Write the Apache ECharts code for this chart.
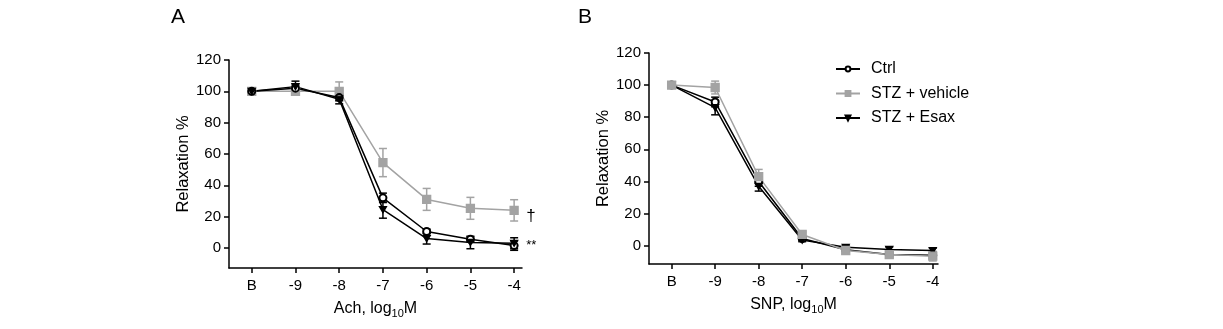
<!DOCTYPE html>
<html>
<head>
<meta charset="utf-8">
<script src="https://cdn.jsdelivr.net/npm/echarts@6/dist/echarts.min.js"></script>
<style>
  html, body { margin: 0; padding: 0; background: #fff; }
  #chart { width: 1223px; height: 329px; }
</style>
</head>
<body>
<div id="chart"></div>
<script>
  // x categories (B = baseline, then log10 M)
  var xLabels = ['B', '-9', '-8', '-7', '-6', '-5', '-4']
  var yTicks = [0, 20, 40, 60, 80, 100, 120]

  // panel A: acetylcholine
  var achCtrl = [100, 102, 96, 32, 10.5, 5.5, 1.5]
  var achCtrlErr = [1, 2, 2, 3, 1.5, 1.5, 3]
  var achVehicle = [100, 100, 100, 54.5, 31, 25.3, 24]
  var achVehicleErr = [1.5, 2.5, 6, 9, 7, 7, 6.8]
  var achEsax = [100, 103, 95, 24.5, 6, 3.5, 3]
  var achEsaxErr = [1.5, 3.5, 3, 5.5, 3.5, 4, 3.5]

  // panel B: sodium nitroprusside
  var snpCtrl = [100, 89.5, 40, 4.5, -2.5, -5.5, -6]
  var snpCtrlErr = [1, 3, 3, 1, 1, 1.5, 2]
  var snpVehicle = [100, 98.5, 43, 7, -3, -5.5, -6.5]
  var snpVehicleErr = [1, 4, 4.5, 1.5, 1.5, 2, 3]
  var snpEsax = [100, 86, 37, 3.5, -1, -2.3, -3]
  var snpEsaxErr = [1, 4.5, 3, 1, 1, 1.5, 1.5]

  var GRAY = '#a3a3a3'
  var FONT = '"Liberation Sans", Arial, sans-serif'
  var tri = 'path://M0,0 L10,0 L5,9 Z'

  function pts (vals) {
    return vals.map(function (v, i) { return [i, v] })
  }
  function errPts (vals, errs) {
    return vals.map(function (v, i) { return [i, v, errs[i]] })
  }

  function errSeries (vals, errs, color, idx) {
    return {
      type: 'custom',
      xAxisIndex: idx,
      yAxisIndex: idx,
      z: 1,
      silent: true,
      data: errPts(vals, errs),
      encode: {x: 0, y: 1},
      renderItem: function (params, api) {
        var x = api.value(0), y = api.value(1), e = api.value(2)
        var top = api.coord([x, y + e])
        var bot = api.coord([x, y - e])
        var hw = 4
        var st = {stroke: color, lineWidth: 1.5}
        return {
          type: 'group',
          children: [
            {type: 'line', shape: {x1: top[0], y1: top[1], x2: bot[0], y2: bot[1]}, style: st},
            {type: 'line', shape: {x1: top[0] - hw, y1: top[1], x2: top[0] + hw, y2: top[1]}, style: st},
            {type: 'line', shape: {x1: bot[0] - hw, y1: bot[1], x2: bot[0] + hw, y2: bot[1]}, style: st},
          ],
        }
      },
    }
  }

  function lineSeries (name, vals, color, symbol, size, idx, extra) {
    var s = {
      name: name,
      type: 'line',
      xAxisIndex: idx,
      yAxisIndex: idx,
      z: 3,
      data: pts(vals),
      symbol: symbol,
      symbolSize: size,
      showAllSymbol: true,
      lineStyle: {color: color, width: 1.5},
      itemStyle: {color: color, borderColor: color, borderWidth: symbol === 'emptyCircle' ? 1 : 1.3},
      emphasis: {disabled: true},
    }
    for (var k in extra) s[k] = extra[k]
    return s
  }

  function xAxis (idx, label) {
    return {
      type: 'value',
      gridIndex: idx,
      min: -0.52,
      max: idx === 0 ? 6.18 : 6.12,
      name: label,
      nameLocation: 'middle',
      nameGap: 33,
      nameTextStyle: {
        color: '#000', fontFamily: FONT,
        rich: {
          a: {fontSize: 16, fontFamily: FONT, color: '#000', verticalAlign: 'top', lineHeight: 18},
          sub: {fontSize: 11, fontFamily: FONT, color: '#000', verticalAlign: 'bottom', padding: [5, 0, 0, 0]},
        },
      },
      splitLine: {show: false},
      axisLine: {onZero: false, lineStyle: {color: '#000', width: 1.5}},
      axisTick: {customValues: [0, 1, 2, 3, 4, 5, 6], length: 5, lineStyle: {color: '#000', width: 1.5}},
      axisLabel: {
        customValues: [0, 1, 2, 3, 4, 5, 6],
        margin: 10,
        color: '#000',
        fontSize: 15,
        fontFamily: FONT,
        formatter: function (v) { return xLabels[Math.round(v)] },
      },
    }
  }

  function yAxis (idx, min) {
    return {
      type: 'value',
      gridIndex: idx,
      min: min,
      max: 120,
      name: 'Relaxation %',
      nameLocation: 'middle',
      nameGap: 37,
      nameTextStyle: {color: '#000', fontSize: 16.5, fontFamily: FONT},
      splitLine: {show: false},
      axisLine: {show: true, onZero: false, lineStyle: {color: '#000', width: 1.5}},
      axisTick: {show: true, customValues: yTicks, length: 5, lineStyle: {color: '#000', width: 1.5}},
      axisLabel: {customValues: yTicks, margin: 8, color: '#000', fontSize: 15, fontFamily: FONT},
    }
  }

  var chart = echarts.init(document.getElementById('chart'))
  var option = {
    backgroundColor: '#fff',
    animation: false,
    textStyle: {fontFamily: FONT},
    title: [
      {text: 'A', left: 166, top: 2, textStyle: {fontSize: 21, fontWeight: 'normal', color: '#000', fontFamily: FONT}},
      {text: 'B', left: 573, top: 2, textStyle: {fontSize: 21, fontWeight: 'normal', color: '#000', fontFamily: FONT}},
    ],
    legend: {
      data: ['Ctrl', 'STZ + vehicle', 'STZ + Esax'],
      orient: 'vertical',
      left: 830,
      top: 56,
      itemWidth: 24,
      itemHeight: 6,
      itemGap: 8.5,
      selectedMode: false,
      textStyle: {fontSize: 16, color: '#000', fontFamily: FONT, padding: [0, 0, 0, 6]},
    },
    grid: [
      {left: 229, top: 60, width: 293, height: 208},
      {left: 649, top: 53, width: 289, height: 211},
    ],
    xAxis: [
      xAxis(0, '{a|Ach, log}{sub|10}{a|M}'),
      xAxis(1, '{a|SNP, log}{sub|10}{a|M}'),
    ],
    yAxis: [yAxis(0, -12.8), yAxis(1, -11.4)],
    series: [
      errSeries(achVehicle, achVehicleErr, GRAY, 0),
      errSeries(achCtrl, achCtrlErr, '#000', 0),
      errSeries(achEsax, achEsaxErr, '#000', 0),
      lineSeries('STZ + vehicle', achVehicle, GRAY, 'rect', 8, 0, {
        endLabel: {show: true, formatter: '\u2020', distance: 12, offset: [0, 6], color: '#000', fontSize: 17, fontFamily: FONT},
      }),
      lineSeries('Ctrl', achCtrl, '#000', 'emptyCircle', 7, 0, {
        endLabel: {show: true, formatter: '**', distance: 12, offset: [0, 0], color: '#000', fontSize: 13, fontFamily: FONT},
      }),
      lineSeries('STZ + Esax', achEsax, '#000', tri, [7, 6], 0),

      errSeries(snpCtrl, snpCtrlErr, '#000', 1),
      errSeries(snpEsax, snpEsaxErr, '#000', 1),
      errSeries(snpVehicle, snpVehicleErr, GRAY, 1),
      lineSeries('Ctrl', snpCtrl, '#000', 'emptyCircle', 7, 1),
      lineSeries('STZ + Esax', snpEsax, '#000', tri, [7, 6], 1),
      lineSeries('STZ + vehicle', snpVehicle, GRAY, 'rect', 8, 1),
    ],
  }
  chart.setOption(option)
</script>
</body>
</html>
